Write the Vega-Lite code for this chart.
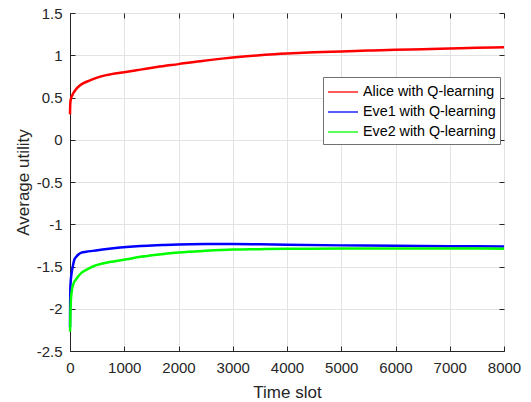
{
  "$schema": "https://vega.github.io/schema/vega-lite/v6.json",
  "width": 434,
  "height": 338,
  "autosize": {"type": "none"},
  "padding": {"left": 70, "top": 13, "right": 27, "bottom": 51},
  "background": "white",
  "config": {
    "font": "Liberation Sans",
    "view": {"stroke": "#262626", "strokeWidth": 1},
    "axis": {
      "gridColor": "#e3e3e3",
      "gridWidth": 1,
      "domainColor": "#262626",
      "tickColor": "#262626",
      "tickSize": -5,
      "labelFont": "Liberation Sans",
      "labelFontSize": 15,
      "labelColor": "#262626",
      "labelExpr": "'' + datum.value",
      "titleFont": "Liberation Sans",
      "titleFontSize": 17,
      "titleFontWeight": "normal",
      "titleColor": "#262626"
    }
  },
  "data": {
    "values": [
      {"t": 0, "v": 0.30, "s": "Alice"},
      {"t": 5, "v": 0.42, "s": "Alice"},
      {"t": 15, "v": 0.48, "s": "Alice"},
      {"t": 30, "v": 0.51, "s": "Alice"},
      {"t": 60, "v": 0.55, "s": "Alice"},
      {"t": 100, "v": 0.59, "s": "Alice"},
      {"t": 175, "v": 0.64, "s": "Alice"},
      {"t": 250, "v": 0.67, "s": "Alice"},
      {"t": 360, "v": 0.70, "s": "Alice"},
      {"t": 500, "v": 0.735, "s": "Alice"},
      {"t": 670, "v": 0.765, "s": "Alice"},
      {"t": 1000, "v": 0.80, "s": "Alice"},
      {"t": 1300, "v": 0.83, "s": "Alice"},
      {"t": 1600, "v": 0.86, "s": "Alice"},
      {"t": 2000, "v": 0.895, "s": "Alice"},
      {"t": 2400, "v": 0.93, "s": "Alice"},
      {"t": 2800, "v": 0.96, "s": "Alice"},
      {"t": 3200, "v": 0.985, "s": "Alice"},
      {"t": 3600, "v": 1.005, "s": "Alice"},
      {"t": 4000, "v": 1.02, "s": "Alice"},
      {"t": 4500, "v": 1.035, "s": "Alice"},
      {"t": 5000, "v": 1.045, "s": "Alice"},
      {"t": 5500, "v": 1.055, "s": "Alice"},
      {"t": 6000, "v": 1.065, "s": "Alice"},
      {"t": 6500, "v": 1.072, "s": "Alice"},
      {"t": 7000, "v": 1.08, "s": "Alice"},
      {"t": 7500, "v": 1.088, "s": "Alice"},
      {"t": 8000, "v": 1.095, "s": "Alice"},
      {"t": 0, "v": -2.22, "s": "Eve1"},
      {"t": 3, "v": -1.95, "s": "Eve1"},
      {"t": 6, "v": -1.76, "s": "Eve1"},
      {"t": 15, "v": -1.66, "s": "Eve1"},
      {"t": 25, "v": -1.6, "s": "Eve1"},
      {"t": 40, "v": -1.54, "s": "Eve1"},
      {"t": 60, "v": -1.47, "s": "Eve1"},
      {"t": 80, "v": -1.42, "s": "Eve1"},
      {"t": 115, "v": -1.385, "s": "Eve1"},
      {"t": 160, "v": -1.355, "s": "Eve1"},
      {"t": 210, "v": -1.335, "s": "Eve1"},
      {"t": 300, "v": -1.325, "s": "Eve1"},
      {"t": 420, "v": -1.315, "s": "Eve1"},
      {"t": 600, "v": -1.3, "s": "Eve1"},
      {"t": 800, "v": -1.285, "s": "Eve1"},
      {"t": 1040, "v": -1.27, "s": "Eve1"},
      {"t": 1300, "v": -1.258, "s": "Eve1"},
      {"t": 1700, "v": -1.247, "s": "Eve1"},
      {"t": 2000, "v": -1.24, "s": "Eve1"},
      {"t": 2500, "v": -1.235, "s": "Eve1"},
      {"t": 3000, "v": -1.234, "s": "Eve1"},
      {"t": 3500, "v": -1.238, "s": "Eve1"},
      {"t": 4000, "v": -1.243, "s": "Eve1"},
      {"t": 5000, "v": -1.25, "s": "Eve1"},
      {"t": 6000, "v": -1.255, "s": "Eve1"},
      {"t": 7000, "v": -1.26, "s": "Eve1"},
      {"t": 8000, "v": -1.262, "s": "Eve1"},
      {"t": 0, "v": -2.27, "s": "Eve2"},
      {"t": 4, "v": -2.2, "s": "Eve2"},
      {"t": 8, "v": -2.05, "s": "Eve2"},
      {"t": 15, "v": -1.92, "s": "Eve2"},
      {"t": 25, "v": -1.83, "s": "Eve2"},
      {"t": 40, "v": -1.76, "s": "Eve2"},
      {"t": 60, "v": -1.71, "s": "Eve2"},
      {"t": 80, "v": -1.68, "s": "Eve2"},
      {"t": 115, "v": -1.65, "s": "Eve2"},
      {"t": 160, "v": -1.61, "s": "Eve2"},
      {"t": 210, "v": -1.575, "s": "Eve2"},
      {"t": 300, "v": -1.54, "s": "Eve2"},
      {"t": 420, "v": -1.5, "s": "Eve2"},
      {"t": 600, "v": -1.465, "s": "Eve2"},
      {"t": 800, "v": -1.44, "s": "Eve2"},
      {"t": 1040, "v": -1.415, "s": "Eve2"},
      {"t": 1300, "v": -1.385, "s": "Eve2"},
      {"t": 1600, "v": -1.36, "s": "Eve2"},
      {"t": 2000, "v": -1.335, "s": "Eve2"},
      {"t": 2500, "v": -1.315, "s": "Eve2"},
      {"t": 3000, "v": -1.3, "s": "Eve2"},
      {"t": 3500, "v": -1.295, "s": "Eve2"},
      {"t": 4000, "v": -1.29, "s": "Eve2"},
      {"t": 5000, "v": -1.288, "s": "Eve2"},
      {"t": 6000, "v": -1.287, "s": "Eve2"},
      {"t": 7000, "v": -1.287, "s": "Eve2"},
      {"t": 8000, "v": -1.29, "s": "Eve2"}
    ]
  },
  "layer": [
    {
      "mark": {"type": "line", "strokeWidth": 2.5, "interpolate": "monotone"},
      "encoding": {
        "x": {
          "field": "t", "type": "quantitative",
          "scale": {"domain": [0, 8000], "nice": false, "zero": false},
          "axis": {"title": "Time slot", "values": [0,1000,2000,3000,4000,5000,6000,7000,8000], "labelPadding": 14, "titlePadding": 9, "labelFlush": false}
        },
        "y": {
          "field": "v", "type": "quantitative",
          "scale": {"domain": [-2.5, 1.5], "nice": false, "zero": false},
          "axis": {"title": "Average utility", "values": [-2.5,-2,-1.5,-1,-0.5,0,0.5,1,1.5], "labelPadding": 13, "titlePadding": 4, "labelFlush": false}
        },
        "color": {
          "field": "s", "type": "nominal",
          "scale": {"domain": ["Alice", "Eve1", "Eve2"], "range": ["#ff0000", "#0000ff", "#00ff00"]},
          "legend": {
            "title": null,
            "orient": "none",
            "legendX": 253,
            "legendY": 64,
            "labelExpr": "datum.label + ' with Q-learning'",
            "labelFont": "Liberation Sans",
            "labelFontSize": 14.3,
            "labelColor": "#000000",
            "labelOffset": 14,
            "symbolType": "M-1,0H2",
            "symbolSize": 400,
            "symbolStrokeWidth": 1.3,
            "padding": 4,
            "rowPadding": 1,
            "fillColor": "white",
            "strokeColor": "#707070"
          }
        }
      }
    },
    {
      "mark": {"type": "line", "opacity": 0},
      "encoding": {
        "x": {"field": "t", "type": "quantitative", "axis": {"orient": "top", "labels": false, "grid": false, "title": null, "domain": false, "values": [0,1000,2000,3000,4000,5000,6000,7000,8000]}},
        "y": {"field": "v", "type": "quantitative", "axis": {"orient": "right", "labels": false, "grid": false, "title": null, "domain": false, "values": [-2.5,-2,-1.5,-1,-0.5,0,0.5,1,1.5]}},
        "detail": {"field": "s"}
      }
    }
  ],
  "resolve": {"axis": {"x": "independent", "y": "independent"}}
}
